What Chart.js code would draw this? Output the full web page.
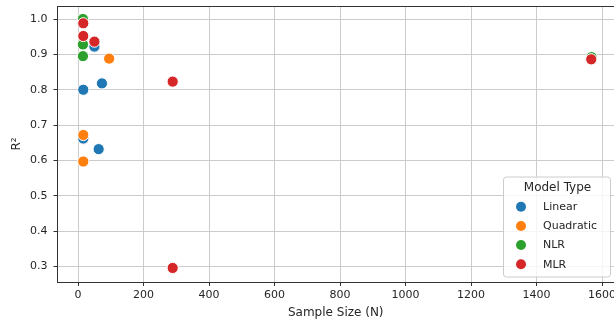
<!DOCTYPE html>
<html>
<head>
<meta charset="utf-8">
<script src="https://cdn.jsdelivr.net/npm/chart.js@4/dist/chart.umd.min.js"></script>
<style>
html,body{margin:0;padding:0;background:#fff;overflow:hidden;}
#wrap{width:614px;height:325px;position:relative;}
</style>
</head>
<body>
<div id="wrap"><canvas id="c" width="614" height="325"></canvas></div>
<script>
// ---- data ----
const seriesNames = ['Linear', 'Quadratic', 'NLR', 'MLR'];
const seriesColors = ['#1f77b4', '#ff7f0e', '#2ca02c', '#d62728'];

const linearN  = [16, 73, 50, 16, 63];
const linearR2 = [0.800, 0.818, 0.922, 0.662, 0.632];

const quadraticN  = [16, 16, 95];
const quadraticR2 = [0.672, 0.597, 0.888];

const nlrN  = [15, 15, 15, 1568];
const nlrR2 = [1.000, 0.928, 0.895, 0.892];

const mlrN  = [16, 16, 50, 289, 289, 1567];
const mlrR2 = [0.988, 0.952, 0.936, 0.823, 0.296, 0.886];

const xTicks = [0, 200, 400, 600, 800, 1000, 1200, 1400, 1600];
const yTicks = [0.3, 0.4, 0.5, 0.6, 0.7, 0.8, 0.9, 1.0];
const xTitle = 'Sample Size (N)';
const yTitle = 'R²';
const legendTitle = 'Model Type';

// ---- build ----
function pts(xs, ys) { return xs.map((x, i) => ({ x: x, y: ys[i] })); }
const seriesData = [pts(linearN, linearR2), pts(quadraticN, quadraticR2), pts(nlrN, nlrR2), pts(mlrN, mlrR2)];
const drawOrder = [4, 3, 2, 1]; // red on top, blue underneath

const datasets = seriesNames.map((name, i) => ({
  label: name,
  data: seriesData[i],
  backgroundColor: seriesColors[i],
  borderColor: '#ffffff',
  borderWidth: 1,
  pointRadius: 5.6,
  pointHoverRadius: 5.6,
  order: drawOrder[i]
}));

const FONT = "'DejaVu Sans', sans-serif";
const AXIS = '#333333';
const TXT = '#262626';

const framePlugin = {
  id: 'frame',
  afterDraw(chart) {
    const ctx = chart.ctx, a = chart.chartArea;
    ctx.save();
    ctx.strokeStyle = AXIS;
    ctx.lineWidth = 1;
    ctx.beginPath();
    ctx.moveTo(a.left, Math.round(a.top) + 0.5);
    ctx.lineTo(a.right + 10, Math.round(a.top) + 0.5);
    ctx.stroke();
    ctx.restore();

    // legend
    const bx = 503, by = 176.5, bw = 107, bh = 100;
    ctx.save();
    ctx.fillStyle = 'rgba(255,255,255,0.8)';
    ctx.strokeStyle = '#cccccc';
    ctx.lineWidth = 1;
    ctx.beginPath();
    if (ctx.roundRect) ctx.roundRect(bx + 0.5, by + 0.5, bw, bh, 3); else ctx.rect(bx + 0.5, by + 0.5, bw, bh);
    ctx.fill();
    ctx.stroke();
    ctx.fillStyle = TXT;
    ctx.font = '12px ' + FONT;
    ctx.textAlign = 'center';
    ctx.textBaseline = 'middle';
    ctx.fillText(legendTitle, bx + bw / 2 + 1, by + 11);
    const ys = [206.7, 226, 245, 264.3];
    chart.data.datasets.forEach((ds, i) => {
      ctx.beginPath();
      ctx.arc(521, ys[i], 5, 0, Math.PI * 2);
      ctx.fillStyle = ds.backgroundColor;
      ctx.fill();
      ctx.fillStyle = TXT;
      ctx.font = '11px ' + FONT;
      ctx.textAlign = 'left';
      ctx.fillText(ds.label, 543, ys[i] + 0.5);
    });
    ctx.restore();
  }
};

new Chart(document.getElementById('c'), {
  type: 'scatter',
  data: { datasets: datasets },
  plugins: [framePlugin],
  options: {
    responsive: false,
    animation: false,
    layout: { autoPadding: false, padding: { top: 6, right: 0, left: 0, bottom: 0 } },
    plugins: { legend: { display: false }, tooltip: { enabled: false } },
    scales: {
      x: {
        type: 'linear',
        min: -62.7,
        max: 1636.5,
        afterBuildTicks(s) { s.ticks = xTicks.map(v => ({ value: v })); },
        afterFit(s) { s.height = 43; s.paddingLeft = 0; s.paddingRight = 0; },
        grid: { color: '#cccccc', lineWidth: 1, tickColor: AXIS, tickLength: 4, tickWidth: 1 },
        border: { display: true, color: AXIS, width: 1 },
        ticks: { color: TXT, font: { family: FONT, size: 11 }, padding: 3, maxRotation: 0, autoSkip: false, callback: v => String(v) },
        title: { display: true, text: xTitle, color: TXT, font: { family: FONT, size: 12 }, padding: { top: 5, bottom: 5 } }
      },
      y: {
        type: 'linear',
        min: 0.2563,
        max: 1.0368,
        afterBuildTicks(s) { s.ticks = yTicks.map(v => ({ value: v })); },
        afterFit(s) { s.width = 57.5; s.paddingTop = 0; s.paddingBottom = 0; },
        grid: { color: '#cccccc', lineWidth: 1, tickColor: AXIS, tickLength: 4, tickWidth: 1 },
        border: { display: true, color: AXIS, width: 1 },
        ticks: { color: TXT, font: { family: FONT, size: 11 }, padding: 6, autoSkip: false, callback: v => v.toFixed(1) },
        title: { display: true, text: yTitle, color: TXT, font: { family: FONT, size: 12 }, padding: { top: 10, bottom: 10 } }
      }
    }
  }
});
</script>
</body>
</html>
